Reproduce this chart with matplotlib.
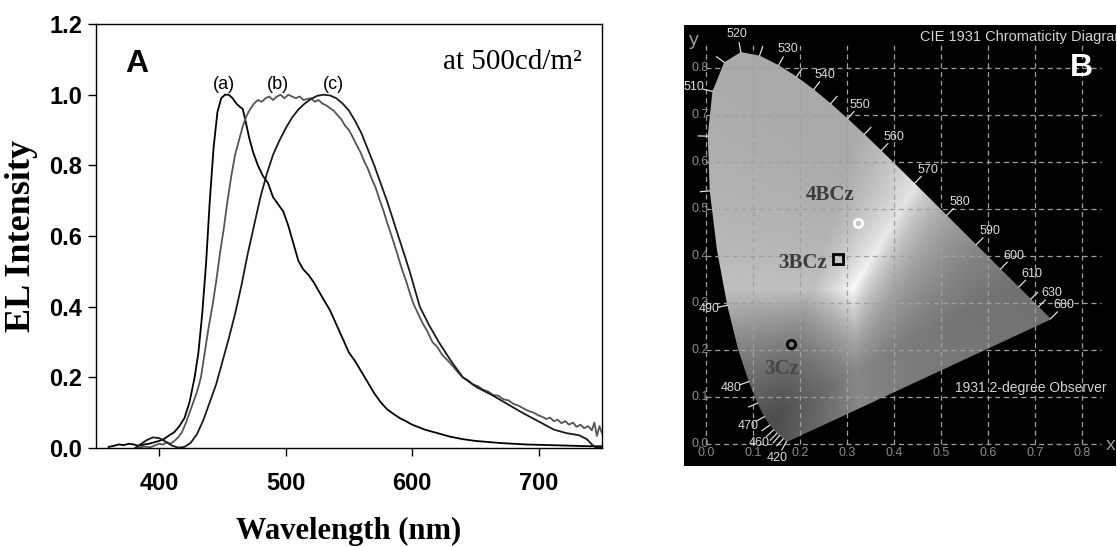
import numpy as np
import matplotlib
matplotlib.use('Agg')
import matplotlib.pyplot as plt
from matplotlib.patches import Polygon

plt.rcParams["font.family"] = ["Liberation Sans", "DejaVu Sans"]

# ---- panel A: EL spectra at 500 cd/m2 ----
wl_a = [360, 364, 368, 372, 376, 380, 384, 388, 392, 396, 400, 404, 408, 412, 416, 420,
        424, 428, 431, 434, 437, 440, 443, 446, 449, 452, 455, 458, 461, 464, 466, 468,
        471, 474, 478, 482, 486, 490, 494, 498, 502, 506, 510, 514, 518, 522, 526, 530,
        535, 540, 545, 550, 555, 560, 565, 570, 575, 580, 585, 590, 595, 600, 610, 620,
        630, 640, 650, 660, 670, 680, 690, 700, 710, 720, 730, 740, 750]
int_a = [0.003, 0.006, 0.010, 0.008, 0.012, 0.010, 0.006, 0.010, 0.012, 0.016, 0.020, 0.026,
         0.036, 0.045, 0.062, 0.085, 0.13, 0.20, 0.27, 0.38, 0.52, 0.70, 0.85, 0.95, 0.99,
         1.00, 1.00, 0.99, 0.975, 0.965, 0.96, 0.93, 0.88, 0.84, 0.80, 0.77, 0.75, 0.71,
         0.69, 0.67, 0.63, 0.58, 0.53, 0.505, 0.49, 0.47, 0.445, 0.42, 0.39, 0.35, 0.31,
         0.27, 0.245, 0.215, 0.185, 0.155, 0.13, 0.11, 0.097, 0.085, 0.076, 0.066, 0.052,
         0.042, 0.032, 0.025, 0.020, 0.017, 0.014, 0.012, 0.010, 0.009, 0.008, 0.007,
         0.006, 0.005, 0.005]

wl_b = [383, 388, 393, 397, 400, 403, 406, 409, 412, 415, 418, 421, 424, 427, 430, 433,
        436, 439, 442, 445, 448, 451, 454, 457, 460, 463, 466, 469, 472, 475, 478, 481,
        484, 487, 490, 493, 496, 499, 502, 505, 508, 511, 514, 517, 520, 523, 526, 529,
        532, 535, 538, 541, 544, 547, 550, 553, 556, 559, 562, 565, 568, 571, 574, 577,
        580, 583, 586, 589, 592, 595, 598, 601, 604, 608, 612, 616, 620, 624, 628, 632,
        636, 640, 644, 648, 652, 656, 660, 664, 668, 672, 676, 680, 684, 688, 692, 696,
        700, 703, 706, 709, 712, 715, 718, 721, 724, 727, 730, 733, 736, 739, 742, 744,
        746, 748, 750]
int_b = [0.000, 0.004, 0.002, 0.008, 0.012, 0.010, 0.016, 0.012, 0.020, 0.030, 0.045,
         0.070, 0.100, 0.130, 0.160, 0.200, 0.270, 0.340, 0.400, 0.470, 0.550, 0.620,
         0.700, 0.770, 0.830, 0.870, 0.910, 0.940, 0.960, 0.975, 0.985, 0.980, 0.990,
         0.995, 0.985, 0.995, 1.000, 0.990, 1.000, 0.995, 0.990, 0.995, 0.985, 0.988,
         0.990, 0.980, 0.985, 0.975, 0.970, 0.962, 0.955, 0.942, 0.930, 0.912, 0.900,
         0.880, 0.858, 0.838, 0.812, 0.790, 0.762, 0.738, 0.705, 0.675, 0.640, 0.608,
         0.575, 0.540, 0.505, 0.475, 0.440, 0.408, 0.385, 0.355, 0.330, 0.300, 0.285,
         0.262, 0.248, 0.232, 0.215, 0.200, 0.192, 0.180, 0.175, 0.165, 0.160, 0.150,
         0.148, 0.138, 0.135, 0.125, 0.120, 0.112, 0.105, 0.100, 0.092, 0.088, 0.082,
         0.086, 0.076, 0.080, 0.070, 0.076, 0.066, 0.072, 0.060, 0.066, 0.056, 0.062,
         0.050, 0.072, 0.034, 0.062, 0.042]

wl_c = [381, 385, 390, 395, 400, 405, 410, 415, 420, 425, 430, 435, 440, 445, 450, 455,
        460, 465, 470, 475, 480, 485, 490, 495, 500, 505, 510, 515, 520, 525, 530, 535,
        540, 545, 550, 555, 560, 565, 570, 575, 580, 585, 589, 594, 598, 602, 606, 613,
        621, 630, 640, 651, 663, 675, 687, 700, 712, 722, 732, 738, 742, 745, 750]
int_c = [0.000, 0.010, 0.022, 0.030, 0.028, 0.018, 0.007, 0.001, 0.003, 0.015, 0.040,
         0.080, 0.130, 0.180, 0.245, 0.310, 0.380, 0.460, 0.550, 0.630, 0.710, 0.775,
         0.830, 0.870, 0.905, 0.935, 0.958, 0.975, 0.988, 0.997, 1.000, 0.998, 0.990,
         0.975, 0.955, 0.925, 0.890, 0.845, 0.800, 0.750, 0.700, 0.645, 0.600, 0.545,
         0.500, 0.450, 0.400, 0.350, 0.300, 0.250, 0.200, 0.172, 0.150, 0.125, 0.100,
         0.075, 0.052, 0.042, 0.036, 0.025, 0.010, 0.002, 0.002]

curve_labels = ["(a)", "(b)", "(c)"]
curve_label_x = [451, 494, 538]
yticks_a = [0.0, 0.2, 0.4, 0.6, 0.8, 1.0, 1.2]
xticks_a = [400, 500, 600, 700]

# ---- panel B: CIE 1931 chromaticity ----
locus_nm = [380, 385, 390, 395, 400, 405, 410, 415, 420, 425, 430, 435, 440, 445, 450,
            455, 460, 465, 470, 475, 480, 485, 490, 495, 500, 505, 510, 515, 520, 525,
            530, 535, 540, 545, 550, 555, 560, 565, 570, 575, 580, 585, 590, 595, 600,
            605, 610, 615, 620, 625, 630, 635, 640, 645, 650, 655, 660, 665, 670, 680, 700]
locus_x = [0.1741, 0.1740, 0.1738, 0.1736, 0.1733, 0.1730, 0.1726, 0.1721, 0.1714, 0.1703,
           0.1689, 0.1669, 0.1644, 0.1611, 0.1566, 0.1510, 0.1440, 0.1355, 0.1241, 0.1096,
           0.0913, 0.0687, 0.0454, 0.0235, 0.0082, 0.0039, 0.0139, 0.0389, 0.0743, 0.1142,
           0.1547, 0.1929, 0.2296, 0.2658, 0.3016, 0.3373, 0.3731, 0.4087, 0.4441, 0.4788,
           0.5125, 0.5448, 0.5752, 0.6029, 0.6270, 0.6482, 0.6658, 0.6801, 0.6915, 0.7006,
           0.7079, 0.7140, 0.7190, 0.7230, 0.7260, 0.7283, 0.7300, 0.7311, 0.7320, 0.7334,
           0.7347]
locus_y = [0.0050, 0.0050, 0.0049, 0.0049, 0.0048, 0.0048, 0.0048, 0.0048, 0.0051, 0.0058,
           0.0069, 0.0086, 0.0109, 0.0138, 0.0177, 0.0227, 0.0297, 0.0399, 0.0578, 0.0868,
           0.1327, 0.2007, 0.2950, 0.4127, 0.5384, 0.6548, 0.7502, 0.8120, 0.8338, 0.8262,
           0.8059, 0.7816, 0.7543, 0.7243, 0.6923, 0.6589, 0.6245, 0.5896, 0.5547, 0.5202,
           0.4866, 0.4544, 0.4242, 0.3965, 0.3725, 0.3514, 0.3340, 0.3197, 0.3083, 0.2993,
           0.2920, 0.2859, 0.2809, 0.2770, 0.2740, 0.2717, 0.2700, 0.2689, 0.2680, 0.2666,
           0.2653]

labelled_nm = [420, 460, 470, 480, 490, 510, 520, 530, 540, 550, 560, 570, 580, 590,
               600, 610, 630, 680]
tick_nm = [420, 440, 450, 455, 460, 465, 470, 475, 480, 490, 500, 505, 510, 515, 520, 525,
           530, 535, 540, 545, 550, 555, 560, 570, 580, 590, 600, 610, 620, 630, 680]

samples = ["4BCz", "3BCz", "3Cz"]
cie_x = [0.3235, 0.281, 0.180]
cie_y = [0.471, 0.393, 0.212]
sample_markers = ["o", "s", "o"]
sample_edge = ["white", "black", "black"]
sample_label_x = [0.265, 0.205, 0.162]
sample_label_y = [0.530, 0.384, 0.159]
sample_label_color = ["#3c3c3c", "#3c3c3c", "#474747"]
cie_ticks = [0.0, 0.1, 0.2, 0.3, 0.4, 0.5, 0.6, 0.7, 0.8]


fig = plt.figure(figsize=(11.17, 5.47), dpi=100)

# ===== panel A =====
ax = fig.add_axes([0.0859, 0.181, 0.453, 0.775])
ax.plot(wl_a, int_a, color="black", linewidth=1.3)
ax.plot(wl_b, int_b, color="#555555", linewidth=1.3)
ax.plot(wl_c, int_c, color="#1a1a1a", linewidth=1.3)
ax.set_xlim(350, 750)
ax.set_ylim(0, 1.2)
ax.set_xticks(xticks_a)
ax.set_yticks(yticks_a)
ax.set_yticklabels([f"{v:.1f}" for v in yticks_a])
ax.tick_params(axis="both", direction="out", length=6, width=1, top=False, right=False,
               labelsize=17)
ax.tick_params(axis="x", pad=11)
ax.tick_params(axis="y", pad=4)
for lab in ax.get_xticklabels() + ax.get_yticklabels():
    lab.set_fontweight("bold")
for s in ax.spines.values():
    s.set_linewidth(1.0)
ax.set_xlabel("Wavelength (nm)", family="Liberation Serif", fontweight="bold",
              fontsize=22, labelpad=16)
ax.set_ylabel("EL Intensity", family="Liberation Serif", fontweight="bold",
              fontsize=26, labelpad=8)
for lab, xl in zip(curve_labels, curve_label_x):
    ax.text(xl, 1.028, lab, ha="center", va="center", fontsize=13)
ax.text(373, 1.065, "A", fontsize=23, fontweight="bold", ha="left", va="baseline")
ax.text(734, 1.073, "at 500cd/m²", family="Liberation Serif", fontsize=21,
        ha="right", va="baseline")

# ===== panel B =====
bx = fig.add_axes([0.6115, 0.148, 0.3885, 0.806])
bx.set_facecolor("black")
bx.set_xlim(-0.047, 0.873)
bx.set_ylim(-0.047, 0.891)
bx.set_xticks([])
bx.set_yticks([])
for s in bx.spines.values():
    s.set_visible(False)

lx = np.array(locus_x)
ly = np.array(locus_y)
lnm = np.array(locus_nm, dtype=float)

# grey rendering of the chromaticity colours inside the horseshoe
gx, gy = np.meshgrid(np.linspace(0.0, 0.75, 500), np.linspace(0.0, 0.85, 560))
yy = np.clip(gy, 0.004, None)
XYZ = np.stack([gx / yy, np.ones_like(gx), (1 - gx - gy) / yy], axis=-1)
M = np.array([[3.2406, -1.5372, -0.4986],
              [-0.9689, 1.8758, 0.0415],
              [0.0557, -0.2040, 1.0570]])
rgb = np.clip(XYZ @ M.T, 0, None)
rgb = rgb / np.clip(rgb.max(axis=-1, keepdims=True), 1e-6, None)
lum = 0.299 * rgb[..., 0] + 0.587 * rgb[..., 1] + 0.114 * rgb[..., 2]
grey = 0.22 + 0.76 * lum
img = bx.imshow(grey, cmap="gray", vmin=0, vmax=1, origin="lower",
                extent=[0.0, 0.75, 0.0, 0.85], interpolation="bilinear", zorder=1)
shoe = Polygon(np.column_stack([lx, ly]), closed=True, facecolor="none",
               edgecolor="none", transform=bx.transData)
bx.add_patch(shoe)
img.set_clip_path(shoe)

# dashed grid
for t in cie_ticks:
    bx.plot([t, t], [0.0, 0.85], color="#a0a0a0", lw=0.9, ls=(0, (4, 3)), zorder=2)
    bx.plot([0.0, 0.84], [t, t], color="#a0a0a0", lw=0.9, ls=(0, (4, 3)), zorder=2)
    bx.text(t, -0.02, f"{t:.1f}", color="#8c8c8c", fontsize=9, ha="center", va="center")
    bx.text(0.006, t, f"{t:.1f}", color="#8c8c8c", fontsize=9, ha="right", va="center")
bx.text(0.862, -0.004, "x", color="#9a9a9a", fontsize=14, ha="center", va="center")
bx.text(-0.026, 0.858, "y", color="#9a9a9a", fontsize=14, ha="center", va="center")

# wavelength ticks along the spectral locus
def locus_point(nm):
    return np.array([np.interp(nm, lnm, lx), np.interp(nm, lnm, ly)])

def outward(nm):
    p = locus_point(nm)
    t = locus_point(nm + 1.5) - locus_point(nm - 1.5)
    n = np.array([t[1], -t[0]])
    n = n / np.hypot(*n)
    if np.dot(n, p - np.array([0.33, 0.33])) < 0:
        n = -n
    return p, n

for nm in tick_nm:
    p, n = outward(nm)
    q = p + 0.02 * n
    bx.plot([p[0], q[0]], [p[1], q[1]], color="#e0e0e0", lw=0.9, zorder=3)
for nm in labelled_nm:
    p, n = outward(nm)
    q = p + 0.04 * n
    bx.text(q[0], q[1], str(nm), color="#dcdcdc", fontsize=9, ha="center", va="center")

for sx, sy, mk, ec in zip(cie_x, cie_y, sample_markers, sample_edge):
    bx.plot(sx, sy, marker=mk, ms=6 if mk == "o" else 7, mfc="none", mec=ec, mew=2,
            zorder=5)
for name, tx, ty, tc in zip(samples, sample_label_x, sample_label_y, sample_label_color):
    bx.text(tx, ty, name, family="Liberation Serif", fontweight="bold", fontsize=15,
            color=tc, ha="center", va="center", zorder=5)

bx.text(0.455, 0.866, "CIE 1931 Chromaticity Diagram", color="#d4d4d4", fontsize=10.5,
        ha="left", va="center", clip_on=True)
bx.text(0.53, 0.119, "1931 2-degree Observer", color="#d4d4d4", fontsize=10,
        ha="left", va="center")
bx.text(0.80, 0.80, "B", color="white", fontsize=23, fontweight="bold",
        ha="center", va="center")

fig.savefig("out.png", dpi=100)
